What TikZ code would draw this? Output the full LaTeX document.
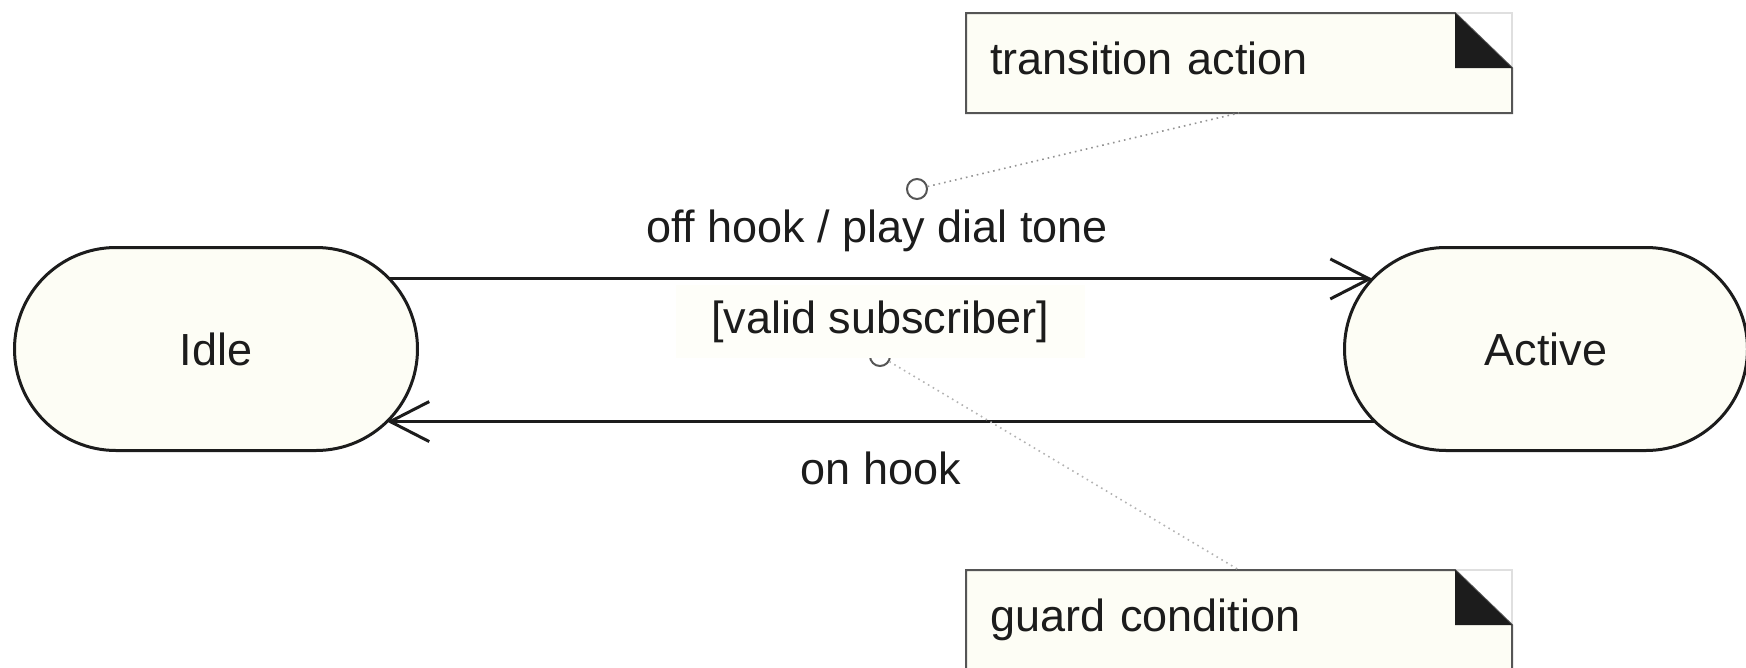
\documentclass[tikz,border=0pt]{standalone}
\usepackage{fontspec}
\setmainfont{Liberation Sans}
\usetikzlibrary{shapes.misc,arrows.meta,backgrounds}
\definecolor{cream}{RGB}{253,253,245}
\definecolor{guardfill}{RGB}{254,254,249}
\definecolor{ink}{RGB}{28,28,28}
\definecolor{noteedge}{RGB}{85,85,85}
\begin{document}
\begin{tikzpicture}[x=1pt,y=-1pt,
  every node/.style={font=\fontsize{45pt}{54pt}\selectfont, text=ink},
  state/.style={rounded rectangle, rounded rectangle arc length=180, draw=ink, line width=3pt, fill=cream,
    minimum width=403pt, minimum height=203pt, inner sep=0pt, outer sep=0pt},
  trans/.style={draw=ink, line width=3pt, -{Straight Barb[length=39pt,width=40pt]}},
  notebox/.style={rectangle, minimum width=546pt, minimum height=100pt, text width=498pt,
    inner xsep=24pt, inner ysep=0pt, align=left, text height=32pt, text depth=10pt, outer sep=0pt},
  anchorcirc/.style={circle, draw=noteedge, line width=2pt, fill=white, minimum size=20pt, inner sep=0pt},
  dotline/.style={line width=1.6pt, dash pattern=on 1.6pt off 4pt},
  guardbox/.style={fill=guardfill, minimum width=409pt, minimum height=73pt, inner sep=0pt}
]
\useasboundingbox (0,0) rectangle (1746,667);

% states
\node[state] (idle) at (216,349) {Idle};
\node[state] (active) at (1546,349) {Active};

% transitions
\draw[trans] (idle.22) -- (active.158);
\draw[trans] (active.-157) -- (idle.-23);

% labels
\node[anchor=base] (offhook) at (877,242) {off hook / play dial tone};
\node[anchorcirc] (tc) at (917,189) {};
\node[anchorcirc] (gc) at (880,356) {};
\node[guardbox] (guard) at (880,321.5) {[valid subscriber]};
\node[anchor=base] (onhook) at (881,484) {on hook};

% notes
\node[notebox, anchor=north west] (n1) at (966,13) {transition action};
\node[notebox, anchor=north west] (n2) at (966,570) {guard condition};

\begin{scope}[on background layer]
\foreach \n in {n1,n2} {
  \fill[cream] (\n.south west) -- (\n.north west) -- ([xshift=-57pt]\n.north east)
     -- ([yshift=-55pt]\n.north east) -- (\n.south east) -- cycle;
  \draw[gray!25, line width=1.5pt] ([xshift=-57pt]\n.north east) -- (\n.north east) -- ([yshift=-55pt]\n.north east);
  \draw[noteedge, line width=2pt, line join=miter] (\n.south east) -- ([yshift=-55pt]\n.north east)
     -- ([xshift=-57pt]\n.north east) -- (\n.north west) -- (\n.south west) -- cycle;
  \fill[ink] ([xshift=-57pt]\n.north east) -- ([xshift=-57pt,yshift=-55pt]\n.north east)
     -- ([yshift=-55pt]\n.north east) -- cycle;
}
\end{scope}

% note connectors
\draw[dotline, gray!85] (tc) -- (n1.south);
\draw[dotline, gray!60] (gc) -- (n2.north);
\end{tikzpicture}
\end{document}
